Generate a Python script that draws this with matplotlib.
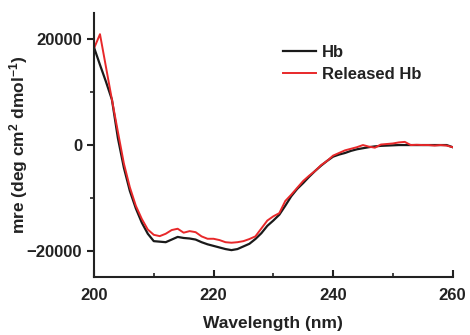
import numpy as np
import matplotlib
matplotlib.use("Agg")
import matplotlib.pyplot as plt
from matplotlib.ticker import MultipleLocator

wavelength = list(range(200, 261))
hb = [18500, 15200, 12000, 8600, 1300, -4300, -8700, -12000, -14700, -16800,
      -18200, -18300, -18400, -17900, -17400, -17600, -17700, -17900, -18400, -18800,
      -19100, -19400, -19700, -19900, -19700, -19200, -18700, -17800, -16700, -15300,
      -14300, -13200, -11500, -9700, -8300, -7200, -6000, -4900, -3900, -3000,
      -2200, -1800, -1500, -1100, -800, -600, -400, -250, -150, -100,
      -50, 0, 0, 0, 0, 0, 0, 0, 0, 0, -400]
released = [18300, 21000, 14800, 8600, 2500, -3500, -8000, -11500, -14000, -16000,
            -17000, -17250, -16800, -16100, -15850, -16600, -16300, -16500, -17300, -17750,
            -17750, -18000, -18400, -18500, -18400, -18200, -17800, -17300, -15800, -14300,
            -13500, -12900, -10600, -9400, -8100, -6800, -5800, -4900, -3800, -3000,
            -2000, -1500, -1000, -700, -400, 0, -300, -500, 100, 200,
            300, 500, 600, 0, 50, 0, 0, -100, 0, -100, -400]

plt.rcParams['font.family'] = ['Liberation Sans', 'DejaVu Sans']
plt.rcParams['font.weight'] = 'bold'
plt.rcParams['mathtext.default'] = 'bf'
plt.rcParams['mathtext.fontset'] = 'custom'
plt.rcParams['mathtext.bf'] = 'Liberation Sans:bold'
plt.rcParams['mathtext.rm'] = 'Liberation Sans:bold'

fig = plt.figure(figsize=(4.7, 3.35), dpi=100)
ax = fig.add_axes([0.2, 0.173, 0.763, 0.788])
ax.plot(wavelength, hb, color='#1a1a1a', lw=1.6, label='Hb')
ax.plot(wavelength, released, color='#e8282a', lw=1.4, label='Released Hb')

ax.set_xlim(200, 260)
ax.set_ylim(-25000, 25000)
ax.xaxis.set_major_locator(MultipleLocator(20))
ax.xaxis.set_minor_locator(MultipleLocator(10))
ax.yaxis.set_major_locator(MultipleLocator(20000))
ax.yaxis.set_minor_locator(MultipleLocator(10000))

for s in ['top', 'right']:
    ax.spines[s].set_visible(False)
for s in ['left', 'bottom']:
    ax.spines[s].set_linewidth(1.5)
    ax.spines[s].set_color('#222222')

ax.tick_params(axis='y', which='major', direction='out', length=5, width=1.5, labelsize=12, colors='#222222')
ax.tick_params(axis='y', which='minor', direction='out', length=3, width=1.2, colors='#222222')
ax.tick_params(axis='x', which='major', direction='in', length=5, width=1.5, labelsize=12, colors='#222222', pad=8)
ax.tick_params(axis='x', which='minor', direction='in', length=3, width=1.2, colors='#222222')
for lab in ax.get_xticklabels() + ax.get_yticklabels():
    lab.set_fontweight('bold')

ax.set_xlabel('Wavelength (nm)', fontsize=12.5, fontweight='bold', color='#222222', labelpad=9)
ax.set_ylabel('mre (deg cm$^{2}$ dmol$^{-1}$)', fontsize=12.5, fontweight='bold', color='#222222')
ax.yaxis.set_label_coords(-0.178, 0.5)

leg = ax.legend(loc='upper left', bbox_to_anchor=(0.527, 0.88), frameon=False,
                fontsize=12, handlelength=2.0, handletextpad=0.35, labelspacing=0.45,
                borderaxespad=0, borderpad=0)
for t in leg.get_texts():
    t.set_fontweight('bold')
    t.set_color('#222222')

fig.savefig('out.png', dpi=100)
